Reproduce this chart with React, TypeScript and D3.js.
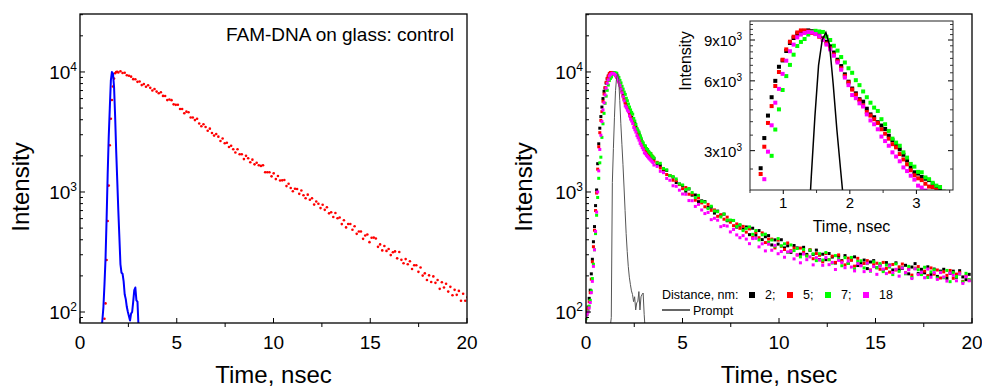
import React from "react";
import * as d3 from "d3";

const FONT = "'Liberation Sans', Arial, Helvetica, sans-serif";

// ---- tick labels ----
const TIME_TICKS = [0, 5, 10, 15, 20];
const INTENSITY_TICKS = [1e2, 1e3, 1e4];
const INSET_TIME_TICKS = [1, 2, 3];
const INSET_INTENSITY_TICKS = [3000, 6000, 9000];

// ---- channel grids (ns) ----
const EARLY_DT = 0.055; // early channels start at t = 0
const TAIL_T0 = 3.52;
const TAIL_DT = 0.165;

// ---- left panel: FAM-DNA on glass, control ----
const CONTROL_RISE_T0 = 1.21;
const controlRise = [60, 88, 118, 271, 573, 1130, 2450, 4080, 5840, 7560, 8800, 9750, 9980, 10050];
const CONTROL_TAIL_T0 = 1.98;
const CONTROL_TAIL_DT = 0.11;
const controlTail = [
  9900, 10150, 9800, 9850, 9400, 9300, 9140, 8710, 8690, 8270,
  8330, 7770, 7920, 7530, 7760, 7370, 7000, 7220, 6860,
  6640, 6780, 6320, 6310, 5830, 5890, 5820, 5370, 5320,
  5330, 4910, 4910, 4530, 4670, 4620, 4180, 4180, 3970,
  4080, 3720, 3530, 3670, 3480, 3240, 3370, 3100, 2950,
  3040, 2890, 2660, 2790, 2550, 2570, 2370, 2430, 2270,
  2130, 2270, 2060, 2060, 1880, 2000, 1910, 1770, 1860,
  1700, 1750, 1670, 1650, 1670, 1460, 1460, 1460, 1350,
  1430, 1280, 1360, 1245, 1250, 1260, 1120, 1170, 1080,
  1015, 1065, 1060, 965, 1030, 940, 888, 950, 862, 886,
  785, 834, 798, 734, 782, 710, 747, 664, 678,
  619, 668, 604, 613, 540, 582, 507, 541, 541,
  485, 519, 448, 468, 468, 407, 434, 442, 382,
  416, 417, 410, 349, 366, 326, 355, 323, 335,
  298, 315, 320, 280, 316, 272, 255, 276, 250,
  265, 228, 245, 245, 216, 235, 201, 210, 185,
  202, 178, 198, 175, 185, 156, 177, 160, 172,
  148, 162, 138, 153, 139, 150, 124, 142, 124,
  133,
];
const CONTROL_PROMPT_T0 = 1.1;
const controlPrompt = [
  70, 85, 110, 170, 280, 600, 1400, 2900, 5000, 8500, 10000, 9700, 7500, 4300, 2200, 1250,
  700, 420, 250, 212, 208, 180, 140, 128, 110, 100, 92, 85, 97, 100, 122, 152, 160, 125, 122, 75,
];

// ---- right panel: distance series ----
const blackEarly = [
  95, 103, 110, 130, 152, 208, 275, 385, 515, 770,
  1040, 1720, 2520, 3400, 4250, 5100, 6000, 6900, 7350, 8070,
  8740, 9180, 9580, 9800, 9850, 9900, 9820, 9700, 9420, 9150,
  8850, 8450, 7950, 7400, 6950, 6400, 5950, 5560, 5300, 5000,
  4880, 4550, 4300, 4180, 3980, 3850, 3720, 3480, 3330, 3150,
  3040, 2880, 2720, 2540, 2420, 2390, 2310, 2270, 2240, 2150,
  2090, 2030, 1980, 1930,
];
const redEarly = [
  98, 104, 108, 122, 145, 188, 262, 350, 480, 700,
  980, 1550, 2380, 3120, 3950, 4670, 5700, 6550, 7400, 8200,
  8850, 9300, 9700, 9900, 9900, 9800, 9650, 9550, 9300, 9050,
  8700, 8300, 7800, 7300, 6800, 6300, 5900, 5500, 5230, 4950,
  4700, 4400, 4250, 4100, 3950, 3710, 3550, 3380, 3200, 3100,
  2900, 2750, 2620, 2470, 2350, 2280, 2240, 2160, 2100, 2090,
  2030, 2090, 1990, 1950,
];
const greenEarly = [
  88, 95, 102, 112, 125, 150, 190, 250, 330, 450,
  640, 900, 1300, 1750, 1950, 2850, 3700, 4520, 5480, 6290,
  7030, 7780, 8480, 8830, 9090, 9500, 9750, 9860, 9800, 9750,
  9300, 9000, 8500, 8100, 7600, 7200, 6800, 6500, 6040, 5750,
  5400, 5100, 4830, 4600, 4450, 4100, 3900, 3650, 3380, 3250,
  3150, 2950, 2800, 2630, 2560, 2430, 2420, 2300, 2260, 2180,
  2120, 2090, 2000, 1960,
];
const magentaEarly = [
  92, 96, 100, 108, 120, 145, 180, 240, 330, 470,
  680, 1000, 1500, 2260, 2970, 3860, 4830, 5540, 6430, 7330,
  8050, 8600, 9240, 9500, 9650, 9750, 9700, 9550, 9350, 9000,
  8600, 8200, 7700, 7200, 6700, 6200, 5750, 5210, 5050, 4800,
  4650, 4300, 4050, 3900, 3710, 3450, 3300, 3150, 2950, 2830,
  2700, 2540, 2450, 2340, 2250, 2120, 2080, 2020, 1970, 1920,
  1880, 1840, 1800, 1760,
];
const blackTail = [
  1900, 1700, 1665, 1525, 1515, 1370, 1330, 1200, 1165, 1130,
  1015, 1060, 941, 944, 831, 844, 832, 742, 747, 667,
  693, 640, 654, 576, 578, 579, 510, 528, 492, 511,
  441, 499, 437, 477, 401, 424, 433, 362, 399, 368,
  400, 342, 356, 314, 358, 342, 303, 346, 302, 326,
  302, 328, 273, 303, 273, 307, 287, 256, 292, 268,
  295, 254, 272, 288, 244, 254, 271, 230, 261, 268,
  234, 246, 224, 258, 246, 224, 257, 225, 231, 245,
  208, 237, 253, 209, 227, 212, 238, 205, 228, 198,
  219, 227, 191, 210, 219, 195, 221, 196, 186, 206,
];
const redTail = [
  1805, 1766, 1585, 1554, 1398, 1371, 1253, 1246, 1153, 1066,
  1089, 958, 960, 854, 892, 811, 753, 788, 703, 709,
  627, 646, 593, 617, 560, 524, 542, 498, 517, 463,
  493, 417, 459, 416, 456, 379, 405, 405, 342, 397,
  353, 332, 376, 324, 341, 299, 341, 317, 294, 331,
  278, 307, 297, 262, 307, 273, 292, 259, 299, 265,
  247, 281, 270, 241, 280, 244, 254, 268, 224, 248,
  255, 227, 259, 231, 215, 249, 224, 238, 251, 212,
  228, 203, 232, 239, 210, 219, 201, 233, 207, 224,
  192, 216, 202, 222, 191, 207, 213, 180, 200, 184,
];
const greenTail = [
  1916, 1749, 1733, 1570, 1529, 1370, 1344, 1285, 1165, 1144,
  1047, 1069, 989, 898, 937, 836, 824, 727, 761, 695,
  686, 620, 654, 582, 584, 579, 516, 534, 477, 497,
  512, 444, 477, 399, 440, 445, 381, 398, 353, 409,
  356, 370, 314, 362, 325, 338, 288, 332, 293, 328,
  305, 268, 306, 271, 313, 273, 256, 295, 275, 243,
  284, 254, 285, 228, 264, 267, 233, 253, 219, 262,
  234, 253, 217, 246, 237, 205, 252, 218, 235, 208,
  240, 194, 230, 225, 205, 236, 194, 216, 225, 192,
  215, 193, 222, 179, 213, 197, 207, 178, 210, 186,
];
const magentaTail = [
  1677, 1633, 1486, 1449, 1297, 1252, 1127, 1115, 1035, 962,
  957, 848, 846, 758, 788, 708, 661, 675, 588, 604,
  582, 514, 526, 520, 465, 487, 439, 416, 433, 405,
  371, 409, 411, 349, 370, 323, 367, 327, 359, 306,
  319, 286, 317, 321, 277, 299, 257, 304, 273, 288,
  247, 284, 271, 245, 284, 248, 259, 226, 269, 258,
  234, 266, 237, 220, 253, 243, 217, 255, 221, 239,
  206, 241, 228, 209, 243, 213, 227, 199, 233, 212,
  225, 190, 229, 205, 214, 193, 228, 195, 213, 187,
  213, 196, 181, 211, 202, 182, 208, 173, 197, 182,
];
const PROMPT_T0 = 1.2;
const promptValues = [
  60, 75, 90, 1200, 2300, 4200, 7000, 9000, 9700, 8600, 5800, 3700, 2500, 1700, 1100, 700,
  450, 320, 240, 195, 170, 150, 140, 122, 134, 104, 120, 122, 148, 104, 134, 140, 144, 95, 70,
];

const DISTANCE_LABELS = ["2;", "5;", "7;", "18"];
const SERIES_COLORS = ["#000000", "#ff0000", "#00ff00", "#ff00ff"];

type Pt = { t: number; v: number };
const toPoints = (vals: number[], t0: number, dt: number): Pt[] => vals.map((v, i) => ({ t: t0 + i * dt, v }));

const series = [
  { early: blackEarly, tail: blackTail },
  { early: redEarly, tail: redTail },
  { early: greenEarly, tail: greenTail },
  { early: magentaEarly, tail: magentaTail },
].map((s, i) => ({
  label: DISTANCE_LABELS[i],
  color: SERIES_COLORS[i],
  points: [...toPoints(s.early, 0, EARLY_DT), ...toPoints(s.tail, TAIL_T0, TAIL_DT)],
}));

const controlPoints = [
  ...toPoints(controlRise, CONTROL_RISE_T0, EARLY_DT),
  ...toPoints(controlTail, CONTROL_TAIL_T0, CONTROL_TAIL_DT),
];
const controlPromptPts = toPoints(controlPrompt, CONTROL_PROMPT_T0, EARLY_DT);
const promptPts = toPoints(promptValues, PROMPT_T0, EARLY_DT);

function logMinor(domain: number[]) {
  const out: number[] = [];
  for (const dec of [10, 100, 1000, 10000]) {
    for (let k = 2; k <= 9; k++) {
      const v = k * dec;
      if (v >= domain[0] && v <= domain[1]) out.push(v);
    }
  }
  return out;
}

function MainAxes({ x, y }: { x: any; y: any }) {
  const [x0, x1] = x.range();
  const [yb, yt] = y.range();
  const minorX = d3.range(2.5, 20, 5);
  const minorY = logMinor(y.domain());
  return (
    <g>
      {TIME_TICKS.map((t) => (
        <line key={"mx" + t} x1={x(t)} x2={x(t)} y1={yb} y2={yb - 5} stroke="#000" strokeWidth={1} />
      ))}
      {minorX.map((t) => (
        <line key={"nx" + t} x1={x(t)} x2={x(t)} y1={yb} y2={yb + 4} stroke="#000" strokeWidth={1} />
      ))}
      {INTENSITY_TICKS.map((v) => (
        <line key={"my" + v} x1={x0} x2={x0 + 5} y1={y(v)} y2={y(v)} stroke="#000" strokeWidth={1} />
      ))}
      {minorY.map((v) => (
        <line key={"ny" + v} x1={x0} x2={x0 + 3} y1={y(v)} y2={y(v)} stroke="#000" strokeWidth={1} />
      ))}
      <rect x={x0} y={yt} width={x1 - x0} height={yb - yt} fill="none" stroke="#000" strokeWidth={1.3} />
      {TIME_TICKS.map((t) => (
        <text key={"lx" + t} x={x(t)} y={349} textAnchor="middle" fontSize={19}>
          {t}
        </text>
      ))}
      {INTENSITY_TICKS.map((v) => (
        <text key={"ly" + v} x={x0 - 3} y={y(v) + 7} textAnchor="end" fontSize={19}>
          10
          <tspan dy={-8} fontSize={12}>
            {Math.round(Math.log10(v))}
          </tspan>
        </text>
      ))}
      <text x={(x0 + x1) / 2} y={383} textAnchor="middle" fontSize={24}>
        Time, nsec
      </text>
    </g>
  );
}

export default function App() {
  const yMain = d3.scaleLog().domain([81, 30400]).range([323, 14]);
  const xLeft = d3.scaleLinear().domain([0, 20]).range([80, 467]);
  const xRight = d3.scaleLinear().domain([0, 20]).range([586, 972]);
  const xIn = d3.scaleLinear().domain([0.5, 3.55]).range([750, 953]);
  const yIn = d3.scaleLog().domain([2030, 10870]).range([190, 21]);

  const lineLeft = d3.line<Pt>().x((d) => xLeft(d.t)).y((d) => yMain(Math.max(d.v, 1)));
  const lineRight = d3.line<Pt>().x((d) => xRight(d.t)).y((d) => yMain(Math.max(d.v, 1)));
  const lineIn = d3.line<Pt>().x((d) => xIn(d.t)).y((d) => yIn(Math.max(d.v, 1)));

  const inMinorY = d3.range(2500, 10870, 500).filter((v) => v % 3000 !== 0);
  const inMinorX = [0.5, 1.5, 2.5, 3.5];

  const legendX = [752, 790, 828, 866];

  return (
    <svg
      width={982}
      height={388}
      style={{ position: "absolute", left: 0, top: 0, background: "#fff" }}
      fontFamily={FONT}
    >
      <defs>
        <clipPath id="clipL">
          <rect x={80} y={14} width={387} height={309} />
        </clipPath>
        <clipPath id="clipR">
          <rect x={586} y={14} width={386} height={309} />
        </clipPath>
        <clipPath id="clipIn">
          <rect x={750} y={21} width={203} height={169} />
        </clipPath>
      </defs>

      {/* left panel */}
      <g clipPath="url(#clipL)">
        {controlPoints.map((d, i) => (
          <circle key={i} cx={xLeft(d.t)} cy={yMain(d.v)} r={1.3} fill="#ff0000" />
        ))}
        <path d={lineLeft(controlPromptPts) || ""} fill="none" stroke="#0000ff" strokeWidth={2} strokeLinejoin="round" />
      </g>
      <MainAxes x={xLeft} y={yMain} />
      <text transform="rotate(-90 29 187)" x={29} y={187} textAnchor="middle" fontSize={24}>
        Intensity
      </text>
      <text x={454} y={41} textAnchor="end" fontSize={19}>
        FAM-DNA on glass: control
      </text>

      {/* right panel */}
      <g clipPath="url(#clipR)">
        {series.map((s) => (
          <g key={s.label} fill={s.color}>
            {s.points.map((d, i) => (
              <rect key={i} x={xRight(d.t) - 1.5} y={yMain(d.v) - 1.5} width={3} height={3} />
            ))}
          </g>
        ))}
        <path d={lineRight(promptPts) || ""} fill="none" stroke="#555" strokeWidth={1} />
      </g>
      <MainAxes x={xRight} y={yMain} />
      <text transform="rotate(-90 532 187)" x={532} y={187} textAnchor="middle" fontSize={24}>
        Intensity
      </text>

      {/* legend */}
      <text x={662} y={299} fontSize={12.5}>
        Distance, nm:
      </text>
      {series.map((s, i) => (
        <g key={"lg" + s.label}>
          <rect x={legendX[i] - 3} y={292} width={6} height={6} fill={s.color} />
          <text x={legendX[i] + 13} y={299} fontSize={12.5}>
            {s.label}
          </text>
        </g>
      ))}
      <line x1={662} x2={690} y1={310} y2={310} stroke="#000" strokeWidth={1.2} />
      <text x={693} y={315} fontSize={12.5}>
        Prompt
      </text>

      {/* inset */}
      <rect x={750} y={21} width={203} height={169} fill="#fff" />
      <g clipPath="url(#clipIn)">
        {series.map((s) => (
          <g key={"in" + s.label} fill={s.color}>
            {s.points
              .filter((d) => d.t < 3.7)
              .map((d, i) => (
                <rect key={i} x={xIn(d.t) - 2} y={yIn(d.v) - 2} width={4} height={4} />
              ))}
          </g>
        ))}
        <path d={lineIn(promptPts) || ""} fill="none" stroke="#000" strokeWidth={1.5} />
      </g>
      {INSET_INTENSITY_TICKS.map((v) => (
        <g key={"iy" + v}>
          <line x1={750} x2={755} y1={yIn(v)} y2={yIn(v)} stroke="#000" />
          <line x1={953} x2={948} y1={yIn(v)} y2={yIn(v)} stroke="#000" />
          <text x={742} y={yIn(v) + 6} textAnchor="end" fontSize={15}>
            {v / 1000}x10
            <tspan dy={-6} fontSize={10}>
              3
            </tspan>
          </text>
        </g>
      ))}
      {inMinorY.map((v) => (
        <g key={"iny" + v}>
          <line x1={750} x2={753} y1={yIn(v)} y2={yIn(v)} stroke="#000" strokeWidth={0.8} />
          <line x1={953} x2={950} y1={yIn(v)} y2={yIn(v)} stroke="#000" strokeWidth={0.8} />
        </g>
      ))}
      {INSET_TIME_TICKS.map((t) => (
        <g key={"ix" + t}>
          <line x1={xIn(t)} x2={xIn(t)} y1={190} y2={194} stroke="#000" />
          <text x={xIn(t)} y={208} textAnchor="middle" fontSize={15}>
            {t}
          </text>
        </g>
      ))}
      {inMinorX.map((t) => (
        <line key={"inx" + t} x1={xIn(t)} x2={xIn(t)} y1={190} y2={193} stroke="#000" strokeWidth={0.8} />
      ))}
      <rect x={750} y={21} width={203} height={169} fill="none" stroke="#222" strokeWidth={1} />
      <text transform="rotate(-90 691 61)" x={691} y={61} textAnchor="middle" fontSize={16}>
        Intensity
      </text>
      <text x={851.5} y={232} textAnchor="middle" fontSize={16}>
        Time, nsec
      </text>
    </svg>
  );
}
